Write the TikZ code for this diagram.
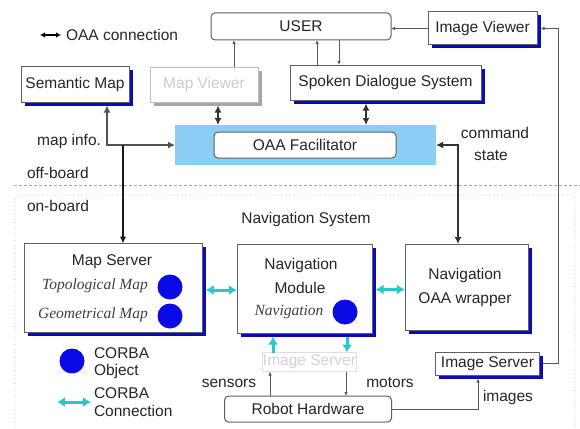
\documentclass[tikz,border=0pt]{standalone}
\usepackage{fontspec}
\setmainfont{Liberation Sans}
\newfontfamily\serifit{Liberation Serif}
\usetikzlibrary{arrows.meta,shadows,calc}
\definecolor{shblue}{RGB}{10,10,190}
\definecolor{oaablue}{RGB}{140,205,245}
\definecolor{corbacyan}{RGB}{40,200,200}
\definecolor{circblue}{RGB}{10,10,230}
\begin{document}
\begin{tikzpicture}[x=1pt,y=-1pt,
 every node/.style={font=\fontsize{15.5}{17}\selectfont, text=black!85, inner sep=0pt, outer sep=0pt},
 shbox/.style={draw=gray!75!black, line width=1pt, fill=white, general shadow={fill=shblue, shadow xshift=3.5pt, shadow yshift=-3.5pt}},
 mvbox/.style={draw=gray!50, line width=1pt, fill=white, text=gray!40, general shadow={fill=gray!70, shadow xshift=3.5pt, shadow yshift=-3.5pt}},
 rbox/.style={draw=gray!75!black, line width=1pt, fill=white, rounded corners=4pt},
 ghostbox/.style={draw=gray!25, line width=0.8pt, fill=white, text=gray!35},
 itl/.style={font=\serifit\itshape\fontsize{15.5}{17}\selectfont, text=black!75},
 circ/.style={circle, fill=circblue, minimum size=25pt},
 oaaline/.style={line width=2.2pt, draw=black!80, {Latex[length=7pt,width=7pt]}-{Latex[length=7pt,width=7pt]}},
 semline/.style={line width=2.2pt, draw=gray!65!black, {Latex[length=7pt,width=7pt]}-{Latex[length=7pt,width=7pt]}},
 onearrow/.style={line width=1.6pt, draw=black!90, -{Latex[length=7pt,width=6.5pt]}},
 thinarrow/.style={line width=0.9pt, draw=gray!70!black, -{Latex[length=4pt,width=3.5pt]}},
 corba/.style={line width=3pt, draw=corbacyan, {Latex[length=8pt,width=10pt]}-{Latex[length=8pt,width=10pt]}},
 corbaone/.style={line width=3pt, draw=corbacyan, -{Latex[length=8pt,width=10pt]}}
]
\useasboundingbox (0,0) rectangle (580,428);

% region separators
\coordinate (db1) at (14,185);
\coordinate (db2) at (580,185);
\draw[gray!70, line width=0.8pt, dash pattern=on 3pt off 2pt] (db1) -- (db2);
\coordinate (ob1) at (15,428);
\coordinate (ob2) at (575,428);
\draw[gray!60, line width=0.6pt, dotted, rounded corners=6pt] (ob1) -- (15,195) -- (575,195) -- (ob2);

% boxes
\node[rbox, minimum width=180pt, minimum height=27pt] (user) at (301,26.5) {USER};
\node[shbox, minimum width=109pt, minimum height=33pt] (imgview) at (482.5,28.5) {Image Viewer};
\node[shbox, minimum width=108pt, minimum height=36pt] (sem) at (75,84) {Semantic Map};
\node[mvbox, minimum width=108pt, minimum height=35pt] (mapview) at (204,84.5) {Map Viewer};
\node[shbox, minimum width=191pt, minimum height=35pt] (sds) at (385.5,82.5) {Spoken Dialogue System};
\node[fill=oaablue, minimum width=261pt, minimum height=40pt] (oaa) at (305.5,145) {};
\node[rbox, minimum width=182pt, minimum height=26pt] (fac) at (305,145) {OAA Facilitator};

\node[shbox, minimum width=178pt, minimum height=89pt] (mapsrv) at (113,288) {};
\node[shbox, minimum width=135pt, minimum height=89pt] (navmod) at (304.5,288.5) {};
\node[shbox, minimum width=123pt, minimum height=86pt] (navwrap) at (466.5,287) {};
\node[ghostbox, minimum width=94pt, minimum height=19pt] (ghost) at (309.5,362) {Image Server};
\node[shbox, minimum width=104pt, minimum height=23pt] (imgsrv) at (487.5,363.5) {Image Server};
\node[rbox, minimum width=167pt, minimum height=26pt] (robot) at (308,409) {Robot Hardware};

% box contents
\node (msT) at (112,262) {Map Server};
\node[itl] (topo) at (95,286) {Topological Map};
\node[circ] (c1) at (170,287) {};
\node[itl] (geom) at (93,315) {Geometrical Map};
\node[circ] (c2) at (170,316) {};
\node (nm1) at (301,265) {Navigation};
\node (nm2) at (300,288) {Module};
\node[itl] (nm3) at (289,312) {Navigation};
\node[circ] (c3) at (345,312) {};
\node (nw1) at (465,275) {Navigation};
\node (nw2) at (465,300) {OAA wrapper};

% labels
\node[anchor=west] (oaaleg) at (66,35) {OAA connection};
\node[anchor=east] (mapinfo) at (101,141) {map info.};
\node[anchor=west] (offb) at (27,173) {off-board};
\node[anchor=west] (onb) at (27,206) {on-board};
\node (navsys) at (306,219) {Navigation System};
\node (cmd) at (495,133) {command};
\node (state) at (491,156) {state};
\node (sens) at (229,383) {sensors};
\node (mot) at (390,383) {motors};
\node (imgs) at (508,397) {images};
\node[circ] (c4) at (72,361) {};
\node[anchor=west] (cob1) at (94,353) {CORBA};
\node[anchor=west] (cob2) at (94,371) {Object};
\node[anchor=west] (cc1) at (94,393) {CORBA};
\node[anchor=west] (cc2) at (94,411) {Connection};

% legend arrows
\coordinate (la1) at (40,35);
\coordinate (la2) at (61,35);
\draw[line width=1.5pt, draw=black, {Latex[length=5pt,width=5.5pt]}-{Latex[length=5pt,width=5.5pt]}] (la1) -- (la2);
\coordinate (lc1) at (57,402);
\coordinate (lc2) at (91,402);
\draw[corba] (lc1) -- (lc2);

% connectors, top part
\coordinate (mv1) at ($(mapview.north)+(30,0)$);
\draw[thinarrow] (mv1) -- (mv1 |- user.south);
\coordinate (sd1) at ($(sds.north)+(-68.5,0)$);
\draw[thinarrow] (sd1) -- (sd1 |- user.south);
\coordinate (sd2) at ($(sds.north)+(-46.5,0)$);
\draw[thinarrow] (sd2 |- user.south) -- (sd2);
\draw[thinarrow] (imgview.west) -- (imgview.west -| user.east);
\coordinate (is1) at ($(imgsrv.east)+(3.5,0)$);
\coordinate (iv1) at ($(imgview.east)+(3.5,0)$);
\draw[thinarrow] (is1) -- ++(15,0) |- (iv1);

\coordinate (mv2) at ($(mapview.south)+(14,3.5)$);
\draw[oaaline] (mv2) -- (mv2 |- oaa.north);
\coordinate (sd3) at ($(sds.south)+(-19.5,3.5)$);
\draw[oaaline] (sd3) -- (sd3 |- oaa.north);
\coordinate (s1) at ($(sem.south)+(32,3.5)$);
\draw[semline] (s1) |- (oaa.west);
\coordinate (ms1) at ($(mapsrv.north)+(10,0)$);
\draw[onearrow] (ms1 |- oaa.west) -- (ms1);
\coordinate (nw0) at ($(navwrap.north)+(-8.5,0)$);
\draw[oaaline] (oaa.east) -| (nw0);

% CORBA connections
\coordinate (k1) at ($(mapsrv.east)+(3.5,2)$);
\draw[corba] (k1) -- (k1 -| navmod.west);
\coordinate (k2) at ($(navmod.east)+(3.5,1)$);
\draw[corba] (k2) -- (k2 -| navwrap.west);
\coordinate (nav1) at ($(navmod.south)+(-31.5,3.5)$);
\draw[corbaone] (nav1 |- ghost.north) -- (nav1);
\coordinate (nav2) at ($(navmod.south)+(42.5,3.5)$);
\draw[corbaone] (nav2) -- (nav2 |- ghost.north);

% hardware
\coordinate (r1) at ($(robot.north)+(-38,0)$);
\draw[thinarrow] (r1) -- (r1 |- ghost.south);
\coordinate (r2) at ($(robot.north)+(38,0)$);
\draw[thinarrow] (r2 |- ghost.south) -- (r2);
\coordinate (is2) at ($(imgsrv.south)+(-9.5,3.5)$);
\draw[thinarrow] (robot.east) -| (is2);
\end{tikzpicture}
\end{document}
